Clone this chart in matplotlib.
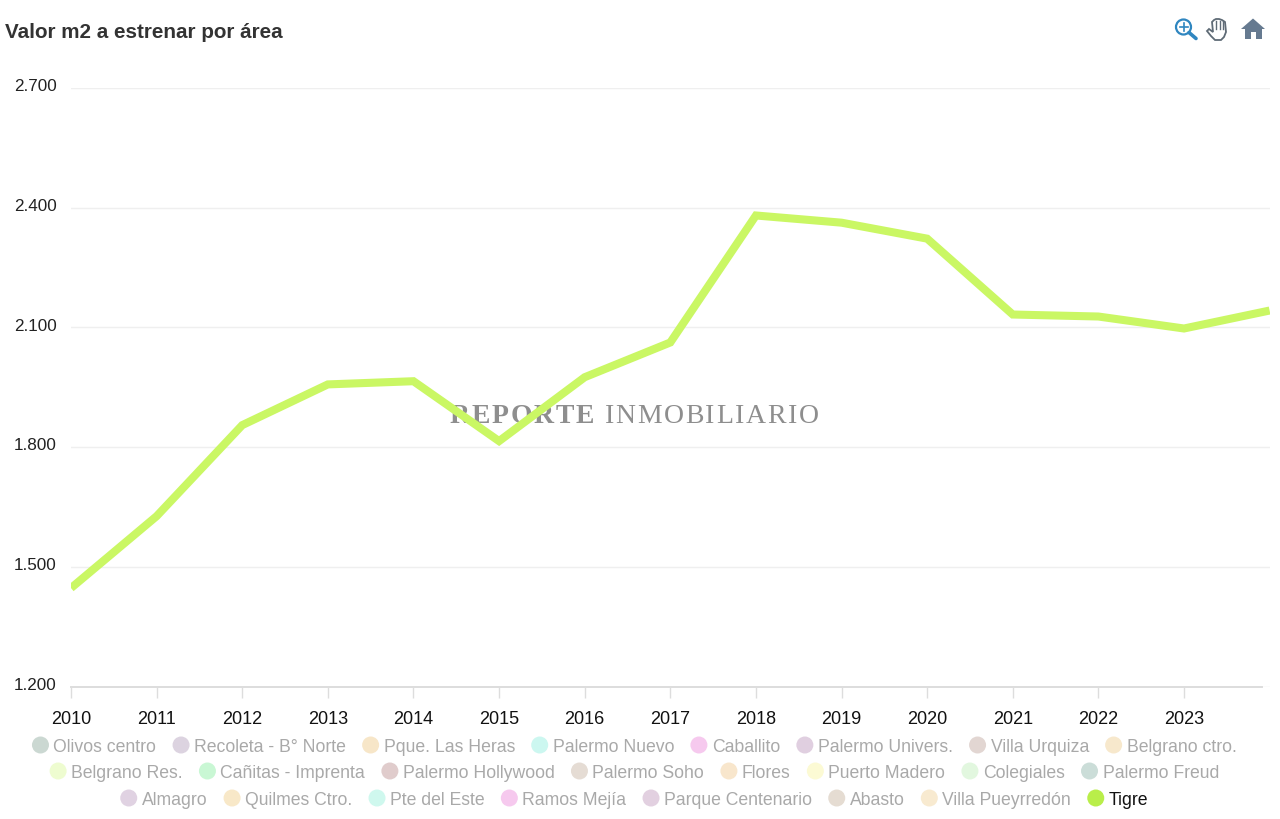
"""Valor m2 a estrenar por area, Tigre selected"""

from matplotlib import pyplot as plt
from matplotlib.patches import Circle, Polygon, Rectangle
from matplotlib.transforms import ScaledTranslation

plt.rcParams["font.family"] = ["Liberation Sans", "DejaVu Sans"]

WIDTH = 1280
HEIGHT = 820

years = [2010, 2011, 2012, 2013, 2014, 2015, 2016, 2017, 2018, 2019, 2020, 2021, 2022, 2023, 2024]
tigre = [1447, 1627, 1855, 1957, 1965, 1815, 1975, 2062, 2380, 2362, 2322, 2132, 2127, 2097, 2142]

x_ticks = years[:-1]
y_ticks = [1200, 1500, 1800, 2100, 2400, 2700]
y_tick_labels = ["1.200", "1.500", "1.800", "2.100", "2.400", "2.700"]

legend_rows = [
    ["Olivos centro", "Recoleta - B° Norte", "Pque. Las Heras", "Palermo Nuevo", "Caballito",
     "Palermo Univers.", "Villa Urquiza", "Belgrano ctro."],
    ["Belgrano Res.", "Cañitas - Imprenta", "Palermo Hollywood", "Palermo Soho", "Flores",
     "Puerto Madero", "Colegiales", "Palermo Freud"],
    ["Almagro", "Quilmes Ctro.", "Pte del Este", "Ramos Mejía", "Parque Centenario", "Abasto",
     "Villa Pueyrredón", "Tigre"],
]
legend_colors = [
    ["#cbd8d2", "#dcd3e0", "#f7e6c8", "#ccf7f0", "#f6c9ee", "#e0cfe0", "#e2d6d2", "#f7e8cc"],
    ["#eefcd0", "#c9f7d4", "#e0cccc", "#e5dcd4", "#f8e6cc", "#fcfad4", "#e2f7df", "#cbddd8"],
    ["#e0d2e2", "#f8e8c8", "#cff8ee", "#f6c9ee", "#e2d0e0", "#e5dcd2", "#f8ead0", "#b9ee4a"],
]


def draw_legend(overlay, renderer):
    """Centre each legend row, measuring the text to space the entries"""
    for row, colors, y_val in zip(legend_rows, legend_colors, [746, 772, 799]):
        texts = []
        for label in row:
            color = "#111111" if label == "Tigre" else "#a9a9a9"
            texts.append(overlay.text(0, y_val, label, fontsize=12.7, color=color, va="center_baseline"))
        widths = [text.get_window_extent(renderer).width for text in texts]
        total = sum(widths) + 13 * len(row) + 24.7 * (len(row) - 1)
        x_val = 638.5 - total / 2
        for text, width, color in zip(texts, widths, colors):
            overlay.add_patch(Circle((x_val, y_val), 8.5, color=color, lw=0))
            text.set_x(x_val + 13)
            x_val += 13 + width + 24.7


def draw_watermark(overlay, renderer):
    """Letter-spaced serif watermark behind the line"""
    x_val = 450
    for word, weight in [("REPORTE", "bold"), ("INMOBILIARIO", "normal")]:
        for letter in word:
            text = overlay.text(
                x_val, 423, letter, family="Liberation Serif", fontsize=20,
                fontweight=weight, color="#8e8e8e", va="baseline",
            )
            x_val += text.get_window_extent(renderer).width + 1.7
        x_val += 9


def draw_toolbar(overlay):
    """Zoom, pan and home icons"""
    blue = "#2f86c0"
    overlay.add_patch(Circle((1183.5, 28), 7.5, fill=False, ec=blue, lw=1.6))
    overlay.plot([1189, 1196], [33.5, 39.5], color=blue, lw=2.6, solid_capstyle="round")
    overlay.plot([1179.5, 1187.5], [28, 28], color=blue, lw=1.2)
    overlay.plot([1183.5, 1183.5], [24, 32], color=blue, lw=1.2)

    hand = [(1207, 32), (1209, 30), (1213, 33), (1212, 23), (1214, 21), (1216, 20), (1219, 20),
            (1222, 21), (1225, 23), (1226, 33), (1224, 38), (1221, 41), (1215, 41), (1211, 37)]
    overlay.add_patch(Polygon(hand, closed=True, fill=False, ec="#5f6b76", lw=1.3))
    for x_val in [1216, 1219.5, 1223]:
        overlay.plot([x_val, x_val], [22, 30], color="#5f6b76", lw=1)

    slate = "#667a90"
    overlay.add_patch(Polygon([(1241, 30), (1253, 19.5), (1265, 30)], closed=True, color=slate, lw=0))
    overlay.add_patch(Rectangle((1244.5, 29), 17, 11, color=slate, lw=0))
    overlay.add_patch(Rectangle((1250.5, 33), 5, 7, color="white", lw=0))


def main():
    fig = plt.figure(figsize=(WIDTH / 100, HEIGHT / 100), dpi=100)

    # pixel coordinate layer for everything outside the scales
    overlay = fig.add_axes([0, 0, 1, 1], zorder=1)
    overlay.set_xlim(0, WIDTH)
    overlay.set_ylim(HEIGHT, 0)
    overlay.axis("off")

    axis = fig.add_axes([71 / WIDTH, (HEIGHT - 687.7) / HEIGHT, 1198.6 / WIDTH, 599 / HEIGHT], zorder=2)
    axis.patch.set_alpha(0)
    axis.plot(years, tigre, color="#caf764", lw=5.8, solid_joinstyle="miter", solid_capstyle="butt")
    axis.set_xlim(years[0], years[-1])
    axis.set_ylim(y_ticks[0], y_ticks[-1])

    axis.set_yticks(y_ticks, labels=y_tick_labels)
    axis.set_xticks(x_ticks)
    axis.grid(axis="y", color="#efefef", lw=1)
    axis.set_axisbelow(True)
    axis.tick_params(axis="y", length=0, pad=10.5, labelsize=12.3, labelcolor="#222222")
    axis.tick_params(axis="x", length=8, width=1, color="#dddddd", pad=8.5, labelsize=13, labelcolor="#111111")
    for label in axis.get_yticklabels():
        label.set_transform(label.get_transform() + ScaledTranslation(0, 2.7 / 72, fig.dpi_scale_trans))

    for side in ["top", "right", "left"]:
        axis.spines[side].set_visible(False)
    axis.spines["bottom"].set_color("#dddddd")
    axis.spines["bottom"].set_linewidth(1.4)
    axis.spines["bottom"].set_bounds(2010, 2023.91)

    fig.canvas.draw()
    renderer = fig.canvas.get_renderer()

    overlay.text(5, 30, "Valor m2 a estrenar por área", fontsize=14.85, fontweight="bold",
                 color="#333333", va="center_baseline")
    draw_watermark(overlay, renderer)
    draw_toolbar(overlay)
    draw_legend(overlay, renderer)

    fig.savefig("out.png", dpi=100, facecolor="white")


main()
